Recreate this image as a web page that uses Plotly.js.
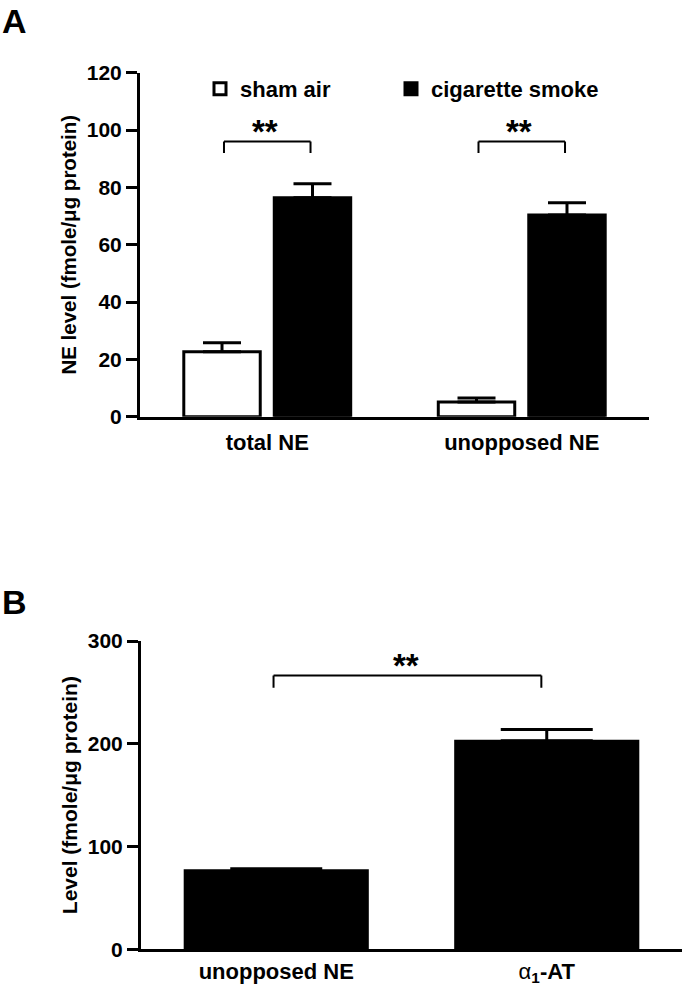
<!DOCTYPE html>
<html>
<head>
<meta charset="utf-8">
<script src="https://cdn.plot.ly/plotly-3.0.1.min.js"></script>
<style>html,body{margin:0;padding:0;background:#fff;}#chart{width:685px;height:989px;}</style>
</head>
<body>
<div id="chart"></div>
<script>
// ---- Panel A data ----
const categoriesA = ['total NE', 'unopposed NE'];
const shamAir = [22.7, 5.1];
const shamAirErr = [3.1, 1.4];
const cigSmoke = [76.4, 70.4];
const cigSmokeErr = [4.9, 4.2];
const seriesNames = ['sham air', 'cigarette smoke'];
const yTicksA = [0, 20, 40, 60, 80, 100, 120];

// ---- Panel B data ----
const categoriesB = ['unopposed NE', 'α1-AT'];
const tickTextB = ['unopposed NE', '<span style="font-weight:normal">α</span><sub>1</sub>-AT'];
const levelB = [77, 203];
const levelBErr = [1.5, 10.8];
const yTicksB = [0, 100, 200, 300];

// significance brackets: [category index, top value, drop] / [left, right, top, drop]
const sigA = [[0, 96, 4], [1, 96, 4]];
const sigB = [[0, 1, 266.5, 12]];

const FONT = 'Liberation Sans, Arial, Helvetica, sans-serif';
const bold = (s) => ({family: FONT, size: s, color: '#000', weight: 'bold'});

const traces = [
  {type: 'bar', name: seriesNames[0], x: categoriesA, y: shamAir, xaxis: 'x', yaxis: 'y', legend: 'legend',
   marker: {color: '#fff', line: {color: '#000', width: 3}},
   error_y: {type: 'data', array: shamAirErr, arrayminus: shamAir.map(() => 0), symmetric: false, color: '#000', thickness: 3, width: 19}},
  {type: 'bar', name: seriesNames[1], x: categoriesA, y: cigSmoke, xaxis: 'x', yaxis: 'y', legend: 'legend2',
   marker: {color: '#000', line: {color: '#000', width: 3}},
   error_y: {type: 'data', array: cigSmokeErr, arrayminus: cigSmoke.map(() => 0), symmetric: false, color: '#000', thickness: 3, width: 19}},
  {type: 'bar', name: 'level', x: categoriesB, y: levelB, xaxis: 'x2', yaxis: 'y2', width: 0.677, showlegend: false,
   marker: {color: '#000', line: {color: '#000', width: 2}},
   error_y: {type: 'data', array: levelBErr, arrayminus: levelB.map(() => 0), symmetric: false, color: '#000', thickness: 3, width: 46}}
];

const off = 0.17;
const shapes = [];
const annotations = [];
const ln = {color: '#000', width: 2};
sigA.forEach(([c, yTop, drop]) => {
  shapes.push({type: 'line', xref: 'x', yref: 'y', x0: c - off, x1: c + off, y0: yTop, y1: yTop, line: ln});
  shapes.push({type: 'line', xref: 'x', yref: 'y', x0: c - off, x1: c - off, y0: yTop, y1: yTop - drop, line: ln});
  shapes.push({type: 'line', xref: 'x', yref: 'y', x0: c + off, x1: c + off, y0: yTop, y1: yTop - drop, line: ln});
  annotations.push({xref: 'x', yref: 'y', x: c - 0.01, y: yTop, yanchor: 'bottom', yshift: -11, text: '**', showarrow: false, font: bold(33)});
});
sigB.forEach(([a, b, yTop, drop]) => {
  shapes.push({type: 'line', xref: 'x2', yref: 'y2', x0: a - 0.01, x1: b - 0.02, y0: yTop, y1: yTop, line: ln});
  shapes.push({type: 'line', xref: 'x2', yref: 'y2', x0: a - 0.01, x1: a - 0.01, y0: yTop, y1: yTop - drop, line: ln});
  shapes.push({type: 'line', xref: 'x2', yref: 'y2', x0: b - 0.02, x1: b - 0.02, y0: yTop, y1: yTop - drop, line: ln});
  annotations.push({xref: 'x2', yref: 'y2', x: (a + b) / 2 - 0.02, y: yTop, yanchor: 'bottom', yshift: -11, text: '**', showarrow: false, font: bold(33)});
});
annotations.push({xref: 'paper', yref: 'paper', x: 0, y: 1, xanchor: 'left', yanchor: 'top', text: 'A', showarrow: false, font: bold(34)});
annotations.push({xref: 'paper', yref: 'paper', x: 0, y: 1 - 581 / 989, xanchor: 'left', yanchor: 'top', text: 'B', showarrow: false, font: bold(34)});

const yAxisCommon = {
  showline: true, linecolor: '#000', linewidth: 3, ticks: 'outside', ticklen: 11, tickwidth: 3, tickcolor: '#000',
  showgrid: false, zeroline: false, tickfont: bold(21), fixedrange: true
};
const xAxisCommon = {
  showline: true, linecolor: '#000', linewidth: 3, ticks: '', showgrid: false, zeroline: false,
  tickfont: bold(22), type: 'category', range: [-0.5, 1.5], fixedrange: true
};
const legendCommon = {orientation: 'h', xanchor: 'left', yanchor: 'top', font: bold(22), bgcolor: 'rgba(0,0,0,0)', borderwidth: 0};

const layout = {
  width: 685, height: 989,
  margin: {l: 0, r: 0, t: 0, b: 0},
  paper_bgcolor: '#fff', plot_bgcolor: '#fff',
  barmode: 'group', bargap: 0.289, bargroupgap: 0.155,
  showlegend: true,
  legend: Object.assign({}, legendCommon, {x: 200 / 685, y: 1 - 68 / 989}),
  legend2: Object.assign({}, legendCommon, {x: 391 / 685, y: 1 - 68 / 989}),
  xaxis: Object.assign({}, xAxisCommon, {domain: [140 / 685, 649 / 685], anchor: 'y', ticklabelstandoff: 4}),
  yaxis: Object.assign({}, yAxisCommon, {domain: [1 - 416.7 / 989, 1 - 72.7 / 989], anchor: 'x', range: [0, 120], tickvals: yTicksA,
    title: {text: 'NE level (fmole/μg protein)', font: bold(20.5), standoff: 5}}),
  xaxis2: Object.assign({}, xAxisCommon, {domain: [141 / 685, 682 / 685], anchor: 'y2', tickvals: categoriesB, ticktext: tickTextB}),
  yaxis2: Object.assign({}, yAxisCommon, {domain: [1 - 949.3 / 989, 1 - 641 / 989], anchor: 'x2', range: [0, 300], tickvals: yTicksB,
    title: {text: 'Level (fmole/μg protein)', font: bold(21), standoff: 5}}),
  shapes: shapes,
  annotations: annotations
};

Plotly.newPlot('chart', traces, layout, {displayModeBar: false, staticPlot: true});
</script>
</body>
</html>
